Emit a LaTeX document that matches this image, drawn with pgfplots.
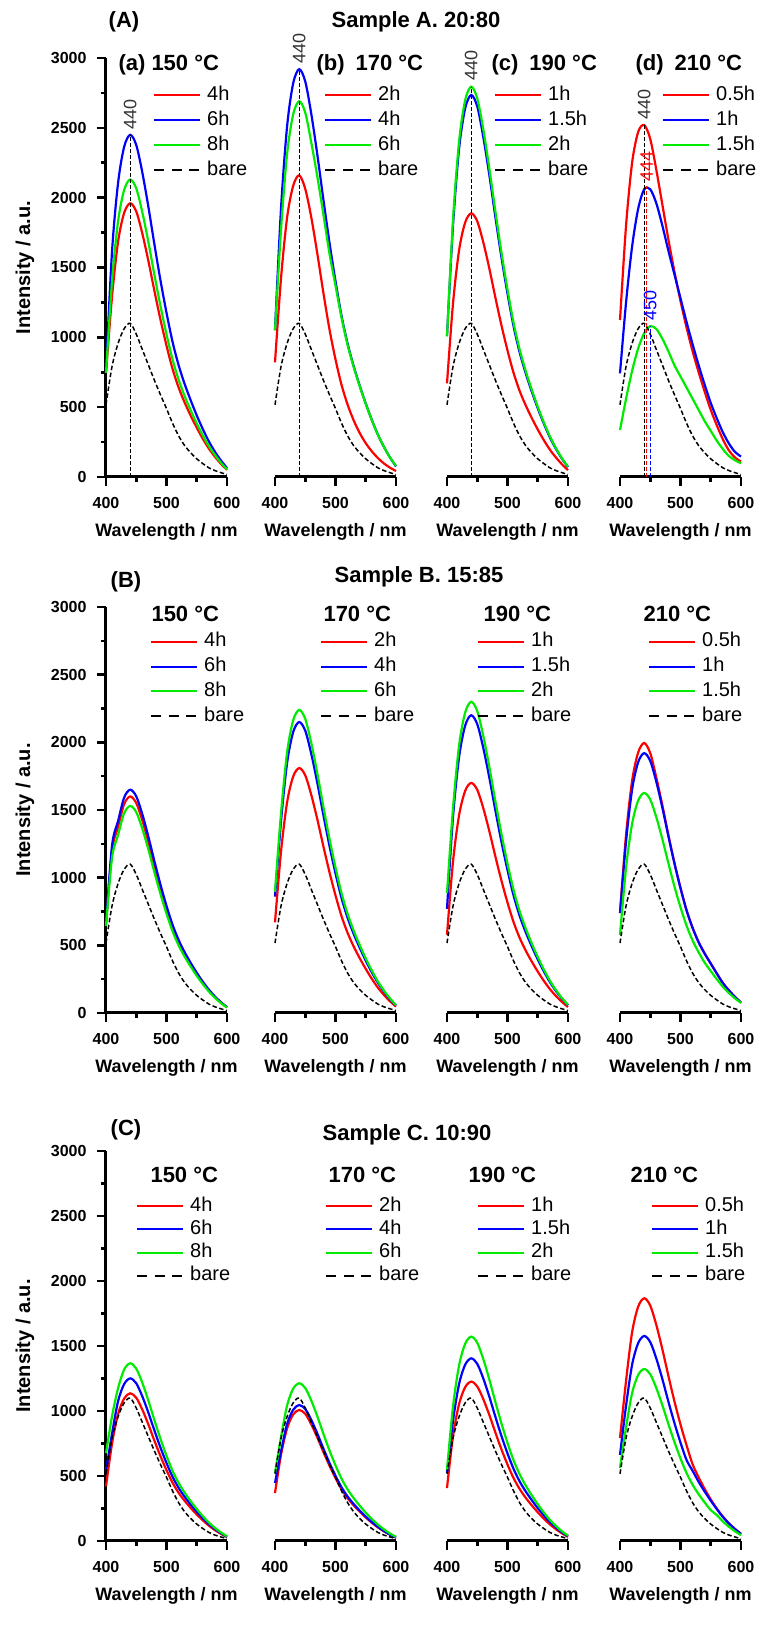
\documentclass[border=0pt]{standalone}
\usepackage{fontspec}
\setmainfont{Liberation Sans}
\usepackage{pgfplots}
\pgfplotsset{compat=1.18}
\usepackage{pgfplotstable}

\newcommand\fTick{\fontsize{16}{16}\selectfont\bfseries}
\newcommand\fXl{\fontsize{18}{18}\selectfont\bfseries}
\newcommand\fYl{\fontsize{20}{20}\selectfont\bfseries}
\newcommand\fLeg{\fontsize{20}{20}\selectfont}
\newcommand\fTtl{\fontsize{22}{22}\selectfont\bfseries}
\newcommand\fPk{\fontsize{18}{18}\selectfont}

\definecolor{cR}{RGB}{255,0,0}
\definecolor{cB}{RGB}{0,0,255}
\definecolor{cG}{RGB}{0,235,0}

\pgfplotstableread{
x y
400 517
410 792
420 957
430 1062
440 1100
450 1023
460 913
470 803
480 693
490 589
500 490
510 385
520 295
530 225
540 173
550 130
560 96
570 66
580 46
590 31
600 18
}\bare

\pgfplotsset{
  legend image code/.code={\draw[#1] (0pt,0pt) -- (46pt,0pt);},
  pan/.style={scale only axis, width=121pt, xmin=400, xmax=600, ymin=0, ymax=3000, clip=false,
    axis x line*=bottom, xtick={400,500,600}, minor xtick={450,550},
    tick align=outside, major tick length=9pt, minor tick length=5pt,
    axis line style={line width=3pt},
    every outer x axis line/.append style={line width=3pt},
    every outer y axis line/.append style={line width=3pt},
    every major tick/.append style={line width=2.6pt, black},
    every minor tick/.append style={line width=2.6pt, black},
    xticklabel style={font=\fTick, yshift=-8pt},
    yticklabel style={font=\fTick, xshift=-7pt},
    /pgf/number format/assume math mode=true, /pgf/number format/1000 sep={},
    xlabel={Wavelength / nm},
    every axis x label/.style={at={(axis description cs:0.5,0)}, anchor=center, yshift=-55pt, font=\fXl},
    legend cell align=left},
  first/.style={pan, axis y line*=left, ytick={0,500,...,3000}, minor ytick={250,750,...,2750},
    ylabel={Intensity / a.u.},
    every axis y label/.style={at={(axis description cs:-0.669,0.5)}, rotate=90, anchor=center, font=\fYl}},
  other/.style={pan, hide y axis},
  leg/.style n args={3}{legend style={at={(axis description cs:#1,#2)}, anchor=north west, draw=none, fill=none,
    inner sep=0pt, outer sep=0pt, row sep=#3, column sep=6pt, font=\fLeg,
    nodes={inner sep=0pt, text height=14pt, text depth=4pt}}},
  cr/.style={cR, line width=2.2pt, smooth},
  cb/.style={cB, line width=2.2pt, smooth},
  cg/.style={cG, line width=2.2pt, smooth},
  bs/.style={black, line width=1.5pt, dash pattern=on 4.5pt off 2.5pt, smooth},
  rl/.style={line width=1pt, dash pattern=on 4pt off 2pt},
}
\newcommand\bareleg{\addlegendimage{black, line width=1.5pt, dash pattern=on 10pt off 7.5pt}\addlegendentry{bare}}

\begin{document}
\begin{tikzpicture}
\useasboundingbox (0,0) rectangle (771pt,1642pt);

%================ ROW A =================
\begin{axis}[first, at={(106pt,1165pt)}, anchor=south west, height=419pt, leg={0.388}{0.933}{7pt}]
\addplot[cr] coordinates {(400,745)(410,1294)(420,1686)(430,1891)(440,1960)(450,1901)(460,1744)(470,1548)(480,1333)(490,1127)(500,941)(510,774)(520,641)(530,533)(540,439)(550,353)(560,274)(570,204)(580,145)(590,94)(600,51)}; \addlegendentry{4h}
\addplot[cb] coordinates {(400,760)(410,1617)(420,2107)(430,2364)(440,2450)(450,2377)(460,2181)(470,1936)(480,1666)(490,1409)(500,1176)(510,968)(520,801)(530,666)(540,549)(550,441)(560,343)(570,255)(580,181)(590,118)(600,64)}; \addlegendentry{6h}
\addplot[cg] coordinates {(400,745)(410,1406)(420,1832)(430,2055)(440,2130)(450,2066)(460,1896)(470,1683)(480,1448)(490,1225)(500,1022)(510,841)(520,697)(530,579)(540,477)(550,383)(560,298)(570,222)(580,158)(590,102)(600,55)}; \addlegendentry{8h}
\addplot[bs, forget plot] table {\bare};
\bareleg
\addplot[rl, forget plot] coordinates {(440,0)(440,2450)};
\node[rotate=90, anchor=west, font=\fPk, text=black!80] at (axis cs:440,2465) {440};
\end{axis}

\begin{axis}[other, at={(275pt,1165pt)}, anchor=south west, height=419pt, leg={0.405}{0.933}{7pt}]
\addplot[cr] coordinates {(400,821)(410,1426)(420,1858)(430,2084)(440,2160)(450,2063)(460,1858)(470,1598)(480,1318)(490,1058)(500,842)(510,659)(520,518)(530,406)(540,315)(550,242)(560,184)(570,136)(580,97)(590,67)(600,43)}; \addlegendentry{2h}
\addplot[cb] coordinates {(400,1051)(410,1927)(420,2511)(430,2818)(440,2920)(450,2832)(460,2599)(470,2307)(480,1986)(490,1679)(500,1402)(510,1153)(520,955)(530,794)(540,654)(550,526)(560,409)(570,304)(580,216)(590,140)(600,76)}; \addlegendentry{4h}
\addplot[cg] coordinates {(400,1049)(410,1775)(420,2313)(430,2596)(440,2690)(450,2609)(460,2394)(470,2150)(480,1880)(490,1600)(500,1370)(510,1140)(520,945)(530,788)(540,650)(550,523)(560,408)(570,303)(580,216)(590,140)(600,80)}; \addlegendentry{6h}
\addplot[bs, forget plot] table {\bare};
\bareleg
\addplot[rl, forget plot] coordinates {(440,0)(440,2920)};
\node[rotate=90, anchor=west, font=\fPk, text=black!80] at (axis cs:440,2935) {440};
\end{axis}

\begin{axis}[other, at={(447pt,1165pt)}, anchor=south west, height=419pt, leg={0.388}{0.933}{7pt}]
\addplot[cr] coordinates {(400,670)(410,1246)(420,1624)(430,1822)(440,1888)(450,1831)(460,1680)(470,1492)(480,1284)(490,1086)(500,906)(510,746)(520,617)(530,514)(540,423)(550,340)(560,264)(570,196)(580,140)(590,91)(600,49)}; \addlegendentry{1h}
\addplot[cb] coordinates {(400,1012)(410,1805)(420,2352)(430,2639)(440,2735)(450,2653)(460,2434)(470,2161)(480,1860)(490,1573)(500,1313)(510,1080)(520,894)(530,744)(540,613)(550,492)(560,383)(570,284)(580,202)(590,131)(600,71)}; \addlegendentry{1.5h}
\addplot[cg] coordinates {(400,1006)(410,1845)(420,2404)(430,2697)(440,2795)(450,2711)(460,2488)(470,2208)(480,1901)(490,1607)(500,1342)(510,1104)(520,914)(530,760)(540,626)(550,503)(560,391)(570,291)(580,207)(590,134)(600,73)}; \addlegendentry{2h}
\addplot[bs, forget plot] table {\bare};
\bareleg
\addplot[rl, forget plot] coordinates {(440,0)(440,2795)};
\node[rotate=90, anchor=west, font=\fPk, text=black!80] at (axis cs:440,2810) {440};
\end{axis}

\begin{axis}[other, at={(620pt,1165pt)}, anchor=south west, height=419pt, leg={0.347}{0.933}{7pt}]
\addplot[cr] coordinates {(400,1124)(410,1800)(420,2250)(430,2470)(440,2520)(450,2420)(460,2200)(470,1950)(480,1700)(490,1470)(500,1260)(510,1070)(520,900)(530,750)(540,610)(550,480)(560,370)(570,270)(580,190)(590,140)(600,110)}; \addlegendentry{0.5h}
\addplot[cb] coordinates {(400,742)(410,1250)(420,1650)(430,1920)(440,2060)(450,2060)(460,1960)(470,1800)(480,1620)(490,1450)(500,1280)(510,1110)(520,950)(530,800)(540,660)(550,530)(560,420)(570,320)(580,240)(590,180)(600,146)}; \addlegendentry{1h}
\addplot[cg] coordinates {(400,336)(410,560)(420,760)(430,920)(440,1030)(450,1080)(460,1060)(470,990)(480,900)(490,800)(500,720)(510,640)(520,560)(530,480)(540,400)(550,330)(560,260)(570,200)(580,150)(590,120)(600,98)}; \addlegendentry{1.5h}
\addplot[bs, forget plot] table {\bare};
\bareleg
\addplot[rl, forget plot] coordinates {(440,0)(440,2520)};
\addplot[rl, forget plot, cR] coordinates {(444,0)(444,2080)};
\addplot[rl, forget plot, cB] coordinates {(450,0)(450,1080)};
\node[rotate=90, anchor=west, font=\fPk, text=black!80] at (axis cs:440,2535) {440};
\node[rotate=90, anchor=west, font=\fPk, text=cR] at (axis cs:444,2090) {444};
\node[rotate=90, anchor=west, font=\fPk, text=cB] at (axis cs:450,1095) {450};
\end{axis}

%================ ROW B =================
\begin{axis}[first, at={(106pt,629pt)}, anchor=south west, height=406pt, leg={0.364}{0.936}{6.7pt}]
\addplot[cr] coordinates {(400,656)(410,1200)(420,1376)(430,1544)(440,1600)(450,1552)(460,1424)(470,1264)(480,1088)(490,920)(500,768)(510,632)(520,523)(530,435)(540,358)(550,288)(560,224)(570,166)(580,118)(590,77)(600,42)}; \addlegendentry{4h}
\addplot[cb] coordinates {(400,660)(410,1238)(420,1419)(430,1592)(440,1650)(450,1601)(460,1469)(470,1304)(480,1122)(490,949)(500,792)(510,652)(520,540)(530,449)(540,370)(550,297)(560,231)(570,172)(580,122)(590,79)(600,43)}; \addlegendentry{6h}
\addplot[cg] coordinates {(400,643)(410,1148)(420,1316)(430,1476)(440,1530)(450,1484)(460,1362)(470,1209)(480,1040)(490,880)(500,734)(510,604)(520,500)(530,416)(540,343)(550,275)(560,214)(570,159)(580,113)(590,73)(600,40)}; \addlegendentry{8h}
\addplot[bs, forget plot] table {\bare};
\bareleg
\end{axis}

\begin{axis}[other, at={(275pt,629pt)}, anchor=south west, height=406pt, leg={0.372}{0.936}{6.7pt}]
\addplot[cr] coordinates {(400,670)(410,1195)(420,1557)(430,1747)(440,1810)(450,1756)(460,1611)(470,1430)(480,1231)(490,1041)(500,869)(510,715)(520,592)(530,492)(540,405)(550,326)(560,253)(570,188)(580,134)(590,87)(600,47)}; \addlegendentry{2h}
\addplot[cb] coordinates {(400,860)(410,1419)(420,1849)(430,2075)(440,2150)(450,2086)(460,1914)(470,1699)(480,1462)(490,1236)(500,1032)(510,849)(520,703)(530,585)(540,482)(550,387)(560,301)(570,224)(580,159)(590,103)(600,56)}; \addlegendentry{4h}
\addplot[cg] coordinates {(400,896)(410,1478)(420,1926)(430,2162)(440,2240)(450,2173)(460,1994)(470,1770)(480,1523)(490,1288)(500,1075)(510,885)(520,732)(530,609)(540,502)(550,403)(560,314)(570,233)(580,166)(590,108)(600,58)}; \addlegendentry{6h}
\addplot[bs, forget plot] table {\bare};
\bareleg
\end{axis}

\begin{axis}[other, at={(447pt,629pt)}, anchor=south west, height=406pt, leg={0.248}{0.936}{6.7pt}]
\addplot[cr] coordinates {(400,578)(410,1122)(420,1462)(430,1641)(440,1700)(450,1649)(460,1513)(470,1343)(480,1156)(490,978)(500,816)(510,672)(520,556)(530,462)(540,381)(550,306)(560,238)(570,177)(580,126)(590,82)(600,44)}; \addlegendentry{1h}
\addplot[cb] coordinates {(400,770)(410,1452)(420,1892)(430,2123)(440,2200)(450,2134)(460,1958)(470,1738)(480,1496)(490,1265)(500,1056)(510,869)(520,719)(530,598)(540,493)(550,396)(560,308)(570,229)(580,163)(590,106)(600,57)}; \addlegendentry{1.5h}
\addplot[cg] coordinates {(400,886)(410,1518)(420,1978)(430,2220)(440,2300)(450,2231)(460,2047)(470,1817)(480,1564)(490,1323)(500,1104)(510,909)(520,752)(530,626)(540,515)(550,414)(560,322)(570,239)(580,170)(590,110)(600,60)}; \addlegendentry{2h}
\addplot[bs, forget plot] table {\bare};
\bareleg
\end{axis}

\begin{axis}[other, at={(620pt,629pt)}, anchor=south west, height=406pt, leg={0.231}{0.936}{6.7pt}]
\addplot[cr] coordinates {(400,738)(410,1317)(420,1716)(430,1925)(440,1995)(450,1920)(460,1740)(470,1535)(480,1315)(490,1110)(500,925)(510,760)(520,630)(530,524)(540,440)(550,366)(560,292)(570,222)(580,167)(590,119)(600,77)}; \addlegendentry{0.5h}
\addplot[cb] coordinates {(400,739)(410,1267)(420,1651)(430,1853)(440,1920)(450,1862)(460,1709)(470,1517)(480,1306)(490,1104)(500,922)(510,758)(520,628)(530,522)(540,438)(550,365)(560,292)(570,221)(580,167)(590,119)(600,77)}; \addlegendentry{1h}
\addplot[cg] coordinates {(400,577)(410,1073)(420,1398)(430,1569)(440,1626)(450,1577)(460,1447)(470,1285)(480,1106)(490,935)(500,781)(510,645)(520,536)(530,448)(540,372)(550,310)(560,250)(570,194)(580,148)(590,108)(600,75)}; \addlegendentry{1.5h}
\addplot[bs, forget plot] table {\bare};
\bareleg
\end{axis}

%================ ROW C =================
\begin{axis}[first, at={(106pt,101pt)}, anchor=south west, height=390pt, leg={0.248}{0.882}{5.3pt}]
\addplot[cr] coordinates {(400,420)(410,750)(420,977)(430,1096)(440,1136)(450,1102)(460,1011)(470,897)(480,772)(490,653)(500,545)(510,449)(520,371)(530,309)(540,254)(550,204)(560,159)(570,118)(580,84)(590,55)(600,30)}; \addlegendentry{4h}
\addplot[cb] coordinates {(400,540)(410,826)(420,1076)(430,1207)(440,1251)(450,1213)(460,1113)(470,988)(480,851)(490,719)(500,600)(510,494)(520,409)(530,340)(540,280)(550,225)(560,175)(570,130)(580,93)(590,60)(600,33)}; \addlegendentry{6h}
\addplot[cg] coordinates {(400,675)(410,960)(420,1176)(430,1319)(440,1367)(450,1326)(460,1217)(470,1080)(480,930)(490,786)(500,656)(510,540)(520,447)(530,372)(540,306)(550,246)(560,191)(570,142)(580,101)(590,66)(600,36)}; \addlegendentry{8h}
\addplot[bs, forget plot] table {\bare};
\bareleg
\end{axis}

\begin{axis}[other, at={(275pt,101pt)}, anchor=south west, height=390pt, leg={0.413}{0.882}{5.3pt}]
\addplot[cr] coordinates {(400,369)(410,665)(420,867)(430,973)(440,1008)(450,978)(460,897)(470,796)(480,685)(490,580)(500,484)(510,398)(520,330)(530,274)(540,226)(550,181)(560,141)(570,105)(580,75)(590,48)(600,26)}; \addlegendentry{2h}
\addplot[cb] coordinates {(400,446)(410,690)(420,900)(430,1009)(440,1046)(450,1015)(460,931)(470,826)(480,711)(490,601)(500,502)(510,413)(520,342)(530,285)(540,234)(550,188)(560,146)(570,109)(580,77)(590,50)(600,27)}; \addlegendentry{4h}
\addplot[cg] coordinates {(400,523)(410,801)(420,1043)(430,1171)(440,1213)(450,1177)(460,1080)(470,958)(480,825)(490,697)(500,582)(510,479)(520,397)(530,330)(540,272)(550,218)(560,170)(570,126)(580,90)(590,58)(600,32)}; \addlegendentry{6h}
\addplot[bs, forget plot] table {\bare};
\bareleg
\end{axis}

\begin{axis}[other, at={(447pt,101pt)}, anchor=south west, height=390pt, leg={0.248}{0.882}{5.3pt}]
\addplot[cr] coordinates {(400,407)(410,809)(420,1054)(430,1183)(440,1226)(450,1189)(460,1091)(470,969)(480,834)(490,705)(500,588)(510,484)(520,401)(530,333)(540,275)(550,221)(560,172)(570,128)(580,91)(590,59)(600,32)}; \addlegendentry{1h}
\addplot[cb] coordinates {(400,523)(410,927)(420,1208)(430,1356)(440,1405)(450,1363)(460,1250)(470,1110)(480,955)(490,808)(500,674)(510,555)(520,459)(530,382)(540,315)(550,253)(560,197)(570,146)(580,104)(590,67)(600,37)}; \addlegendentry{1.5h}
\addplot[cg] coordinates {(400,547)(410,1038)(420,1352)(430,1517)(440,1572)(450,1525)(460,1399)(470,1242)(480,1069)(490,904)(500,755)(510,621)(520,514)(530,428)(540,352)(550,283)(560,220)(570,163)(580,116)(590,75)(600,41)}; \addlegendentry{2h}
\addplot[bs, forget plot] table {\bare};
\bareleg
\end{axis}

\begin{axis}[other, at={(620pt,101pt)}, anchor=south west, height=390pt, leg={0.256}{0.882}{5.3pt}]
\addplot[cr] coordinates {(400,792)(410,1232)(420,1606)(430,1802)(440,1867)(450,1811)(460,1662)(470,1475)(480,1270)(490,1074)(500,896)(510,737)(520,590)(530,490)(540,400)(550,320)(560,250)(570,188)(580,136)(590,92)(600,55)}; \addlegendentry{0.5h}
\addplot[cb] coordinates {(400,662)(410,1041)(420,1356)(430,1522)(440,1577)(450,1530)(460,1404)(470,1246)(480,1072)(490,907)(500,757)(510,623)(520,540)(530,455)(540,380)(550,310)(560,245)(570,185)(580,135)(590,92)(600,55)}; \addlegendentry{1h}
\addplot[cg] coordinates {(400,562)(410,873)(420,1138)(430,1277)(440,1323)(450,1283)(460,1177)(470,1045)(480,900)(490,761)(500,635)(510,523)(520,433)(530,360)(540,296)(550,238)(560,200)(570,150)(580,110)(590,75)(600,45)}; \addlegendentry{1.5h}
\addplot[bs, forget plot] table {\bare};
\bareleg
\end{axis}

%================ TITLES =================
\node[font=\fTtl] at (124pt,1620pt) {(A)};
\node[font=\fTtl] at (416pt,1620pt) {Sample A. 20:80};
\node[font=\fTtl] at (126pt,1060pt) {(B)};
\node[font=\fTtl] at (419pt,1065pt) {Sample B. 15:85};
\node[font=\fTtl] at (126pt,512pt) {(C)};
\node[font=\fTtl] at (407pt,507pt) {Sample C. 10:90};

\node[font=\fTtl, anchor=west] at (115pt,1577pt) {(a) 150 °C};
\node[font=\fTtl, anchor=west] at (313pt,1577pt) {(b)\enspace 170 °C};
\node[font=\fTtl, anchor=west] at (488pt,1577pt) {(c)\enspace 190 °C};
\node[font=\fTtl, anchor=west] at (632pt,1577pt) {(d)\enspace 210 °C};

\node[font=\fTtl, anchor=west] at (148pt,1028pt) {150 °C};
\node[font=\fTtl, anchor=west] at (320pt,1028pt) {170 °C};
\node[font=\fTtl, anchor=west] at (480pt,1028pt) {190 °C};
\node[font=\fTtl, anchor=west] at (640pt,1028pt) {210 °C};

\node[font=\fTtl, anchor=west] at (147pt,467pt) {150 °C};
\node[font=\fTtl, anchor=west] at (325pt,467pt) {170 °C};
\node[font=\fTtl, anchor=west] at (465pt,467pt) {190 °C};
\node[font=\fTtl, anchor=west] at (627pt,467pt) {210 °C};
\end{tikzpicture}
\end{document}
